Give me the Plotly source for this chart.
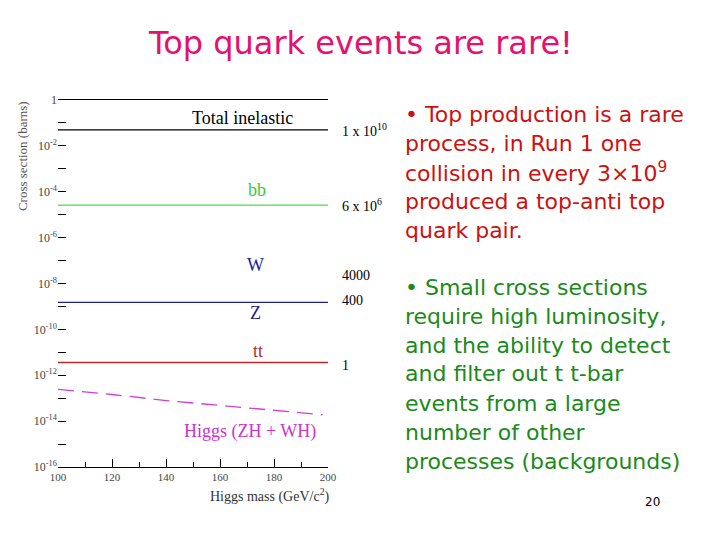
import math
import plotly.graph_objects as go

# Higgs mass axis (GeV/c^2)
mass = [100, 200]
higgs_mass = [100, 120, 140, 160, 180, 198]
higgs_xsec = [2.4e-13, 1.45e-13, 7.9e-14, 4.8e-14, 2.9e-14, 1.9e-14]

# flat cross sections (barns)
process_names = ["Total inelastic", "bb", "W / Z", "tt"]
process_xsec = [0.05, 2.6e-5, 1.5e-9, 3.6e-12]
process_colors = ["black", "#4fd84f", "#20208a", "#b82828"]

# events per ... labels on the right
event_text = ["1 x 10<sup>10</sup>", "6 x 10<sup>6</sup>", "4000", "400", "1"]
event_xsec = [0.049, 2.6e-5, 2.3e-8, 1.9e-9, 2.7e-12]

# curve labels
label_text = ["Total inelastic", "bb", "W", "Z", "tt", "Higgs (ZH + WH)"]
label_mass = [168.5, 173.7, 173.3, 173.3, 174, 171]
label_xsec = [1.6e-1, 1.2e-4, 6.3e-8, 5e-10, 1.2e-11, 3.5e-15]
label_colors = ["black", "#33cc33", "#1a1a99", "#1a1a99", "#b82828", "#cc33cc"]

y_ticks = [10.0 ** -k for k in range(0, 17)]
y_ticktext = ["1" if k == 0 else ("10<sup>-%d</sup>" % k if k % 2 == 0 else "") for k in range(0, 17)]

red_lines = ["• Top production is a rare",
             "process, in Run 1 one",
             "collision in every 3×10<sup>9</sup>",
             "produced a top-anti top",
             "quark pair."]
green_lines = ["• Small cross sections",
               "require high luminosity,",
               "and the ability to detect",
               "and filter out t t-bar",
               "events from a large",
               "number of other",
               "processes (backgrounds)"]

fig = go.Figure()

for name, xs, col in zip(process_names, process_xsec, process_colors):
    fig.add_trace(go.Scatter(x=mass, y=[xs, xs], mode="lines", name=name,
                             line=dict(color=col, width=1.3)))

fig.add_trace(go.Scatter(x=higgs_mass, y=higgs_xsec, mode="lines", name="Higgs",
                         line=dict(color="#d040d8", width=1.3, dash="16px,8px")))

serif = "Liberation Serif"
ann = []
for t, m, xs, c in zip(label_text, label_mass, label_xsec, label_colors):
    ann.append(dict(x=m, y=math.log10(xs), xref="x", yref="y", text=t,
                    xanchor="center", yanchor="middle", showarrow=False,
                    font=dict(family=serif, size=18, color=c)))
for t, xs in zip(event_text, event_xsec):
    ann.append(dict(x=1.044, y=math.log10(xs), xref="paper", yref="y", text=t,
                    xanchor="left", yanchor="middle", showarrow=False,
                    font=dict(family=serif, size=14, color="black")))


def py2paper(py):
    # pixel row of the slide -> paper fraction of the plot area (100..467)
    return (467 - py) / 367.0


for i, t in enumerate(red_lines):
    ann.append(dict(x=1.278, y=py2paper(114 + 29 * i), xref="paper", yref="paper", text=t,
                    xanchor="left", yanchor="middle", showarrow=False,
                    font=dict(family="DejaVu Sans", size=22, color="#cc1111")))
for i, t in enumerate(green_lines):
    ann.append(dict(x=1.278, y=py2paper(287 + 29 * i), xref="paper", yref="paper", text=t,
                    xanchor="left", yanchor="middle", showarrow=False,
                    font=dict(family="DejaVu Sans", size=22, color="#1a8a1a")))

ann.append(dict(x=-0.133, y=py2paper(156), xref="paper", yref="paper", text="Cross section (barns)",
                textangle=-90, xanchor="center", yanchor="middle", showarrow=False,
                font=dict(family=serif, size=13, color="#555")))
ann.append(dict(x=0.785, y=py2paper(495), xref="paper", yref="paper", text="Higgs mass (GeV/c<sup>2</sup>)",
                xanchor="center", yanchor="middle", showarrow=False,
                font=dict(family=serif, size=14, color="#333")))
ann.append(dict(x=2.2, y=py2paper(502), xref="paper", yref="paper", text="20",
                xanchor="center", yanchor="middle", showarrow=False,
                font=dict(family="DejaVu Sans", size=12, color="black")))

# the page body adds an 8 px offset, so margins are shifted by 8
fig.update_layout(
    width=720, height=540,
    margin=dict(l=50, r=400, t=92, b=81),
    paper_bgcolor="white", plot_bgcolor="white",
    showlegend=False,
    title=dict(text="Top quark events are rare!", x=(361 - 8) / 720, y=1 - (43 - 8) / 540,
               xanchor="center", yanchor="middle", xref="container", yref="container",
               font=dict(family="DejaVu Sans", size=32, color="#e3126e")),
    xaxis=dict(range=[100, 200], tick0=100, dtick=20, ticks="inside", ticklen=8,
               tickcolor="black", showline=True, linecolor="black", linewidth=1.3,
               mirror=True, showgrid=False, zeroline=False,
               minor=dict(dtick=10, ticks="inside", ticklen=5, tickcolor="black"),
               tickfont=dict(family=serif, size=11, color="#444")),
    yaxis=dict(type="log", range=[-16, 0], tickvals=y_ticks, ticktext=y_ticktext,
               ticks="inside", ticklen=8, tickcolor="black", showline=False,
               showgrid=False, zeroline=False,
               tickfont=dict(family=serif, size=12, color="#444")),
    annotations=ann,
)

fig.write_html("out.html")
